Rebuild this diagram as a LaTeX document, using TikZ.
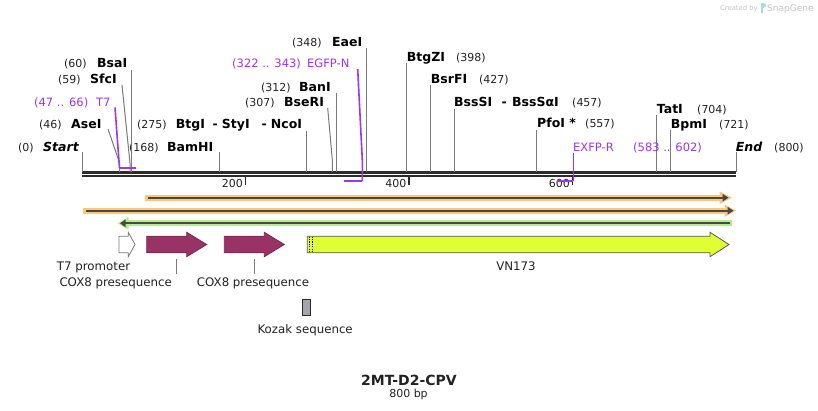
\documentclass[tikz,border=0pt]{standalone}
\usepackage{fontspec}
\setmainfont{DejaVu Sans}[BoldFont={DejaVu Sans Bold},ItalicFont={DejaVu Sans Oblique},BoldItalicFont={DejaVu Sans Bold Oblique}]
\definecolor{numc}{HTML}{222222}
\definecolor{primc}{HTML}{A034F0}
\definecolor{sitec}{HTML}{7A7A7A}
\definecolor{bbc}{HTML}{2B2B2B}
\definecolor{orng}{HTML}{FBC77A}
\definecolor{grn}{HTML}{B4F08A}
\definecolor{darkl}{HTML}{484848}
\definecolor{maroonc}{HTML}{993366}
\definecolor{vnc}{HTML}{E0FF33}
\definecolor{kozc}{HTML}{A3A7AD}
\definecolor{wmc}{HTML}{C4C4C4}
\definecolor{logoc}{HTML}{A8D8F2}
\tikzset{
  num/.style={font=\fontsize{11}{13}\selectfont, text=numc, inner sep=0pt, anchor=base west},
  enz/.style={font=\fontsize{12.5}{14}\selectfont\bfseries, inner sep=0pt, anchor=base west},
  enzit/.style={font=\fontsize{12.5}{14}\selectfont\bfseries\itshape, inner sep=0pt, anchor=base west},
  prim/.style={font=\fontsize{11.5}{14}\selectfont, text=primc, inner sep=0pt, anchor=base west},
  feat/.style={font=\fontsize{11.8}{14}\selectfont, text=numc, inner sep=0pt, anchor=base west},
  site/.style={draw=sitec, line width=1pt},
  primline/.style={draw=primc, line width=1.6pt},
  primbar/.style={draw=primc, line width=2.2pt},
  tickl/.style={draw=bbc, line width=1.6pt},
  ticklab/.style={font=\fontsize{11}{13}\selectfont, text=numc, inner sep=0pt, anchor=base east},
  leader/.style={draw=sitec, line width=0.9pt},
}
\begin{document}
\begin{tikzpicture}[x=1pt,y=-1pt]
\useasboundingbox (0,0) rectangle (818,410);
\fill[white] (0,0) rectangle (818,410);

% watermark
\node[font=\fontsize{6.8}{8}\selectfont, text=wmc, inner sep=0pt, anchor=base west] (wm1) at (720,10) {Created by};
\fill[logoc] (760.5,2.5) rectangle (762.5,12.5);
\fill[logoc] (762.5,2.5) .. controls (766.5,2.5) and (766.5,8) .. (762.5,8) -- cycle;
\node[font=\fontsize{9}{10}\selectfont, text=wmc, inner sep=0pt, anchor=base west] (wm2) at (767,11) {SnapGene};

% backbone
\coordinate (bbL1) at (82,172.3); \coordinate (bbR1) at (736,172.3);
\coordinate (bbL2) at (82,176); \coordinate (bbR2) at (736,176);
\draw[bbc, line width=2.7pt] (bbL1) -- (bbR1);
\draw[bbc, line width=2.7pt] (bbL2) -- (bbR2);

% ticks
\coordinate (t2a) at (245.5,177); \coordinate (t2b) at (245.5,184.5);
\coordinate (t4a) at (409,177); \coordinate (t4b) at (409,184.5);
\coordinate (t6a) at (572.5,177); \coordinate (t6b) at (572.5,184.5);
\draw[tickl] (t2a) -- (t2b);
\draw[tickl] (t4a) -- (t4b);
\draw[tickl] (t6a) -- (t6b);
\node[ticklab] (l200) at (243,187.5) {200};
\node[ticklab] (l400) at (406.5,187.5) {400};
\node[ticklab] (l600) at (570,187.5) {600};

% ---- sites, left-labelled ----
% Start
\node[num] (n0) at (18,151) {(0)};
\node[enzit] (start) at (43,151) {Start};
\coordinate (startT) at (82,152); \coordinate (startB) at (82,172);
\draw[site] (startT) -- (startB);
% BamHI
\node[num] (n168) at (129,151) {(168)};
\node[enz] (bamhi) at (167,151) {BamHI};
\coordinate (bamT) at (219.3,152); \coordinate (bamB) at (219.3,172);
\draw[site] (bamT) -- (bamB);
% AseI
\node[num] (n46) at (39,128) {(46)};
\node[enz] (asei) at (71,128) {AseI};
\coordinate (aseT) at (108,129); \coordinate (aseM) at (119.6,163); \coordinate (aseB) at (119.6,172);
\draw[site] (aseT) -- (aseM) -- (aseB);
% SfcI
\node[num] (n59) at (58,83) {(59)};
\node[enz] (sfci) at (90,83) {SfcI};
\coordinate (sfcT) at (122,85); \coordinate (sfcM) at (130,163); \coordinate (sfcB) at (130,172);
\draw[site] (sfcT) -- (sfcM) -- (sfcB);
% BsaI
\node[num] (n60) at (64,67) {(60)};
\node[enz] (bsai) at (97,67) {BsaI};
\coordinate (bsaT) at (131.7,70); \coordinate (bsaB) at (131.7,172);
\draw[site] (bsaT) -- (bsaB);
% BtgI - StyI - NcoI
\node[num] (n275) at (137,128) {(275)};
\node[enz] (btgi) at (175.7,128) {BtgI};
\node[enz] (d1) at (212.5,128) {-};
\node[enz] (styi) at (221.7,128) {StyI};
\node[enz] (d2) at (261.5,128) {-};
\node[enz] (ncoi) at (270.7,128) {NcoI};
\coordinate (ncoT) at (306.7,131); \coordinate (ncoB) at (306.7,172);
\draw[site] (ncoT) -- (ncoB);
% BseRI
\node[num] (n307) at (245,106) {(307)};
\node[enz] (bseri) at (284,106) {BseRI};
\coordinate (bseT) at (327.7,108); \coordinate (bseM) at (332.3,160); \coordinate (bseB) at (332.3,172);
\draw[site] (bseT) -- (bseM) -- (bseB);
% BanI
\node[num] (n312) at (261,91) {(312)};
\node[enz] (bani) at (299,91) {BanI};
\coordinate (banT) at (336.7,93); \coordinate (banB) at (336.7,172);
\draw[site] (banT) -- (banB);
% EaeI
\node[num] (n348) at (292,46) {(348)};
\node[enz] (eaei) at (332,46) {EaeI};
\coordinate (eaeT) at (366.7,48); \coordinate (eaeB) at (366.7,172);
\draw[site] (eaeT) -- (eaeB);

% ---- sites, right-labelled ----
% BtgZI
\node[enz] (btgzi) at (406.7,61) {BtgZI};
\node[num] (n398) at (456,61) {(398)};
\coordinate (btgzT) at (406.7,63); \coordinate (btgzB) at (406.7,172);
\draw[site] (btgzT) -- (btgzB);
% BsrFI
\node[enz] (bsrfi) at (430.7,83) {BsrFI};
\node[num] (n427) at (479,83) {(427)};
\coordinate (bsrT) at (430.7,85); \coordinate (bsrB) at (430.7,172);
\draw[site] (bsrT) -- (bsrB);
% BssSI - BssSaI
\node[enz] (bsssi) at (454,106) {BssSI};
\node[enz] (d3) at (501.5,106) {-};
\node[enz] (bsssai) at (512,106) {BssSαI};
\node[num] (n457) at (572,106) {(457)};
\coordinate (bssT) at (454,109); \coordinate (bssB) at (454,172);
\draw[site] (bssT) -- (bssB);
% PfoI *
\node[enz] (pfoi) at (537,127) {PfoI *};
\node[num] (n557) at (585,127) {(557)};
\coordinate (pfoT) at (536.7,130); \coordinate (pfoB) at (536.7,172);
\draw[site] (pfoT) -- (pfoB);
% TatI
\node[enz] (tati) at (656.7,113) {TatI};
\node[num] (n704) at (697,113) {(704)};
\coordinate (tatT) at (656.7,115); \coordinate (tatB) at (656.7,172);
\draw[site] (tatT) -- (tatB);
% BpmI
\node[enz] (bpmi) at (670.7,128) {BpmI};
\node[num] (n721) at (719,128) {(721)};
\coordinate (bpmT) at (670.7,130); \coordinate (bpmB) at (670.7,172);
\draw[site] (bpmT) -- (bpmB);
% End
\node[enzit] (endn) at (735.7,151) {End};
\node[num] (n800) at (774,151) {(800)};
\coordinate (endT) at (736,152); \coordinate (endB) at (736,172);
\draw[site] (endT) -- (endB);

% ---- primers ----
% T7
\node[prim] (t7r) at (34,106) {(47 .. 66)};
\node[prim] (t7n) at (96,106) {T7};
\coordinate (t7T) at (115,107.5); \coordinate (t7B) at (119.5,168); \coordinate (t7E) at (135.5,168);
\draw[primline] (t7T) -- (t7B);
\draw[primbar] (t7B) -- (t7E);
% EGFP-N
\node[prim] (egr) at (232,67) {(322 .. 343)};
\node[prim] (egn) at (307,67) {EGFP-N};
\coordinate (egT) at (357.7,69); \coordinate (egM) at (362.3,160); \coordinate (egB) at (362.3,181); \coordinate (egE) at (344,181);
\draw[primline] (egT) -- (egM) -- (egB);
\draw[primbar] (egB) -- (egE);
% EXFP-R
\node[prim] (exn) at (573,151) {EXFP-R};
\node[prim] (exr) at (633,151) {(583 .. 602)};
\coordinate (exT) at (573.3,152.5); \coordinate (exB) at (573.3,181); \coordinate (exE) at (557,181);
\draw[primline] (exT) -- (exB);
\draw[primbar] (exB) -- (exE);

% ---- bands ----
% band 1
\coordinate (b1L) at (145,197.7); \coordinate (b1R) at (723,197.7);
\draw[orng, line width=6pt] (b1L) -- (b1R);
\fill[orng] (719.5,191.3) -- (731.8,197.7) -- (719.5,204.1) -- cycle;
\coordinate (b1Ld) at (147.5,197.7);
\draw[darkl, line width=1.8pt] (b1Ld) -- (b1R);
\fill[darkl] (722.5,193.8) -- (728.5,197.7) -- (722.5,201.6) -- cycle;
% band 2
\coordinate (b2L) at (83,210.7); \coordinate (b2R) at (728,210.7);
\draw[orng, line width=6pt] (b2L) -- (b2R);
\fill[orng] (724.5,204.3) -- (736,210.7) -- (724.5,217.1) -- cycle;
\coordinate (b2Ld) at (85.5,210.7);
\draw[darkl, line width=1.8pt] (b2Ld) -- (b2R);
\fill[darkl] (727.5,206.8) -- (733.5,210.7) -- (727.5,214.6) -- cycle;
% green band
\coordinate (g1L) at (125,223.3); \coordinate (g1R) at (731.7,223.3);
\draw[grn, line width=6pt] (g1L) -- (g1R);
\fill[grn] (128.5,216.9) -- (117.7,223.3) -- (128.5,229.7) -- cycle;
\coordinate (g1Rd) at (729.5,223.3);
\draw[darkl, line width=1.8pt] (g1L) -- (g1Rd);
\fill[darkl] (125.5,219.4) -- (120,223.3) -- (125.5,227.2) -- cycle;

% ---- features ----
\node[draw=sitec, fill=white, line width=0.8pt, inner sep=0pt, shape=coordinate] (t7p) at (119,244.5) {};
\draw[draw=sitec, fill=white, line width=0.8pt] (t7p) ++(0,-8.3) -- (128.3,236.2) -- (128.3,232.3) -- (135,244.5) -- (128.3,256.7) -- (128.3,252.8) -- (119,252.8) -- cycle;
\coordinate (cox1) at (146.7,244.5);
\draw[draw=maroonc!80!black, fill=maroonc, line width=0.8pt] (cox1) ++(0,-8.3) -- (186.7,236.2) -- (186.7,232.3) -- (206.7,244.5) -- (186.7,256.7) -- (186.7,252.8) -- (146.7,252.8) -- cycle;
\coordinate (cox2) at (224.3,244.5);
\draw[draw=maroonc!80!black, fill=maroonc, line width=0.8pt] (cox2) ++(0,-8.3) -- (264.3,236.2) -- (264.3,232.3) -- (284.3,244.5) -- (264.3,256.7) -- (264.3,252.8) -- (224.3,252.8) -- cycle;
\coordinate (vn) at (307.3,244.5);
\draw[draw=gray!70!black, fill=vnc, line width=0.8pt] (vn) ++(0,-8.3) -- (710,236.2) -- (710,232.3) -- (729,244.5) -- (710,256.7) -- (710,252.8) -- (307.3,252.8) -- cycle;
\coordinate (vd1a) at (309.2,236.6); \coordinate (vd1b) at (309.2,252.4);
\coordinate (vd2a) at (312.5,236.6); \coordinate (vd2b) at (312.5,252.4);
\draw[black, line width=0.8pt, dash pattern=on 1.2pt off 1.2pt] (vd1a) -- (vd1b);
\draw[black, line width=0.8pt, dash pattern=on 1.2pt off 1.2pt] (vd2a) -- (vd2b);
% Kozak
\node[draw=bbc, fill=kozc, line width=0.8pt, minimum width=7.3pt, minimum height=15.7pt, inner sep=0pt] (koz) at (306.4,307.2) {};

% feature labels
\node[feat] (t7lab) at (56.7,270) {T7 promoter};
\node[feat] (cox1lab) at (59.3,286.5) {COX8 presequence};
\node[feat] (cox2lab) at (196.7,286.5) {COX8 presequence};
\node[feat, anchor=base] (vnlab) at (516,270) {VN173};
\node[feat] (kozlab) at (257.3,333.5) {Kozak sequence};
\coordinate (c1a) at (176.7,259); \coordinate (c1b) at (176.7,274);
\coordinate (c2a) at (254.3,259); \coordinate (c2b) at (254.3,274);
\draw[leader] (c1a) -- (c1b);
\draw[leader] (c2a) -- (c2b);

% title
\node[font=\fontsize{14}{16}\selectfont\bfseries, text=numc, inner sep=0pt, anchor=base] (title) at (409,385) {2MT-D2-CPV};
\node[font=\fontsize{11}{13}\selectfont, text=numc, inner sep=0pt, anchor=base] (size) at (408.5,397.5) {800 bp};
\end{tikzpicture}
\end{document}
